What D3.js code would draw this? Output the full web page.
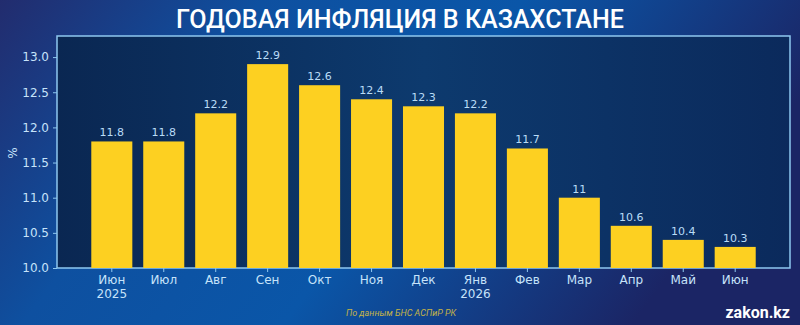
<!DOCTYPE html>
<html>
<head>
<meta charset="utf-8">
<script src="https://cdn.jsdelivr.net/npm/d3@7"></script>
<style>
  body { margin: 0; background: #0b3f86; }
  svg { display: block; }
</style>
</head>
<body>
<svg id="chart" width="800" height="325"></svg>
<script>
// data
var months = ["Июн", "Июл", "Авг", "Сен", "Окт", "Ноя", "Дек", "Янв", "Фев", "Мар", "Апр", "Май", "Июн "];
var years = ["2025", "", "", "", "", "", "", "2026", "", "", "", "", ""];
var inflation = [11.8, 11.8, 12.2, 12.9, 12.6, 12.4, 12.3, 12.2, 11.7, 11, 10.6, 10.4, 10.3];
var valueLabels = ["11.8", "11.8", "12.2", "12.9", "12.6", "12.4", "12.3", "12.2", "11.7", "11", "10.6", "10.4", "10.3"];
var yTicks = [10.0, 10.5, 11.0, 11.5, 12.0, 12.5, 13.0];

var width = 800, height = 325;
var margin = { top: 36, right: 10, bottom: 57, left: 57 };
var svg = d3.select("#chart");
var defs = svg.append("defs");

// background gradient
var bg = defs.append("linearGradient").attr("id", "bg")
  .attr("x1", "0%").attr("y1", "0%").attr("x2", "100%").attr("y2", "30%");
bg.append("stop").attr("offset", "0%").attr("stop-color", "#222c6e");
bg.append("stop").attr("offset", "30%").attr("stop-color", "#0e50a0");
bg.append("stop").attr("offset", "60%").attr("stop-color", "#0a56a8");
bg.append("stop").attr("offset", "100%").attr("stop-color", "#1b2565");
svg.append("rect").attr("width", width).attr("height", height).attr("fill", "url(#bg)");

var plotGrad = defs.append("linearGradient").attr("id", "plot")
  .attr("x1", "0%").attr("y1", "0%").attr("x2", "100%").attr("y2", "0%");
plotGrad.append("stop").attr("offset", "0%").attr("stop-color", "#0a2752");
plotGrad.append("stop").attr("offset", "50%").attr("stop-color", "#0d3a6e");
plotGrad.append("stop").attr("offset", "100%").attr("stop-color", "#0b2a5c");

var x = d3.scaleBand()
  .domain(months)
  .range([margin.left, width - margin.right])
  .paddingInner(0.21)
  .paddingOuter(0.66);

var y = d3.scaleLinear()
  .domain([10, 13.3])
  .range([height - margin.bottom, margin.top]);

// plot area
svg.append("rect")
  .attr("x", margin.left).attr("y", margin.top)
  .attr("width", width - margin.right - margin.left)
  .attr("height", height - margin.bottom - margin.top)
  .attr("fill", "url(#plot)")
  .attr("stroke", "#8ec8f0").attr("stroke-width", 1.5);

// title
svg.append("text")
  .attr("x", 400).attr("y", 28)
  .attr("text-anchor", "middle")
  .attr("fill", "#ffffff")
  .attr("textLength", 448)
  .attr("lengthAdjust", "spacingAndGlyphs")
  .style("font", "500 25px 'Roboto'")
  .text("ГОДОВАЯ ИНФЛЯЦИЯ В КАЗАХСТАНЕ");

// bars
svg.append("g").selectAll("rect")
  .data(inflation)
  .enter().append("rect")
  .attr("x", function(d, i) { return x(months[i]); })
  .attr("y", function(d) { return y(d); })
  .attr("width", x.bandwidth())
  .attr("height", function(d) { return y(10) - y(d); })
  .attr("fill", "#fdd021");

// value labels
svg.append("g").selectAll("text")
  .data(inflation)
  .enter().append("text")
  .attr("x", function(d, i) { return x(months[i]) + x.bandwidth() / 2; })
  .attr("y", function(d) { return y(d) - 5; })
  .attr("text-anchor", "middle")
  .attr("fill", "#b9dcf7")
  .style("font", "11px 'DejaVu Sans'")
  .text(function(d, i) { return valueLabels[i]; });

// y axis
var yAxis = svg.append("g")
  .attr("transform", "translate(" + margin.left + ",0)")
  .call(d3.axisLeft(y).tickValues(yTicks).tickFormat(d3.format(".1f")).tickSize(4).tickPadding(4));
yAxis.select(".domain").remove();
yAxis.selectAll("line").attr("stroke", "#8ec8f0");
yAxis.selectAll("text").attr("fill", "#c6e3fa").style("font", "12px 'DejaVu Sans'");

// x axis
var xAxis = svg.append("g")
  .attr("transform", "translate(0," + (height - margin.bottom) + ")")
  .call(d3.axisBottom(x).tickSize(4).tickPadding(3));
xAxis.select(".domain").remove();
xAxis.selectAll("line").attr("stroke", "#8ec8f0");
xAxis.selectAll("text").attr("fill", "#c6e3fa").style("font", "12px 'DejaVu Sans'")
  .each(function(d, i) {
    var t = d3.select(this);
    var label = d.trim();
    t.text(null);
    t.append("tspan").attr("x", 0).attr("dy", "0.71em").text(label);
    if (years[i]) t.append("tspan").attr("x", 0).attr("dy", "1.2em").text(years[i]);
  })
  .attr("dy", null);

// y label
svg.append("text")
  .attr("transform", "translate(17,153) rotate(-90)")
  .attr("text-anchor", "middle")
  .attr("fill", "#c6e3fa")
  .style("font", "12px 'DejaVu Sans'")
  .text("%");

// source
svg.append("text")
  .attr("x", 401).attr("y", 316)
  .attr("text-anchor", "middle")
  .attr("fill", "#c4b347")
  .style("font", "italic 9px 'Roboto'")
  .text("По данным БНС АСПиР РК");

// logo
svg.append("text")
  .attr("x", 790).attr("y", 318)
  .attr("text-anchor", "end")
  .attr("fill", "#ffffff")
  .style("font", "bold 16px 'Roboto'")
  .text("zakon.kz");
</script>
</body>
</html>
